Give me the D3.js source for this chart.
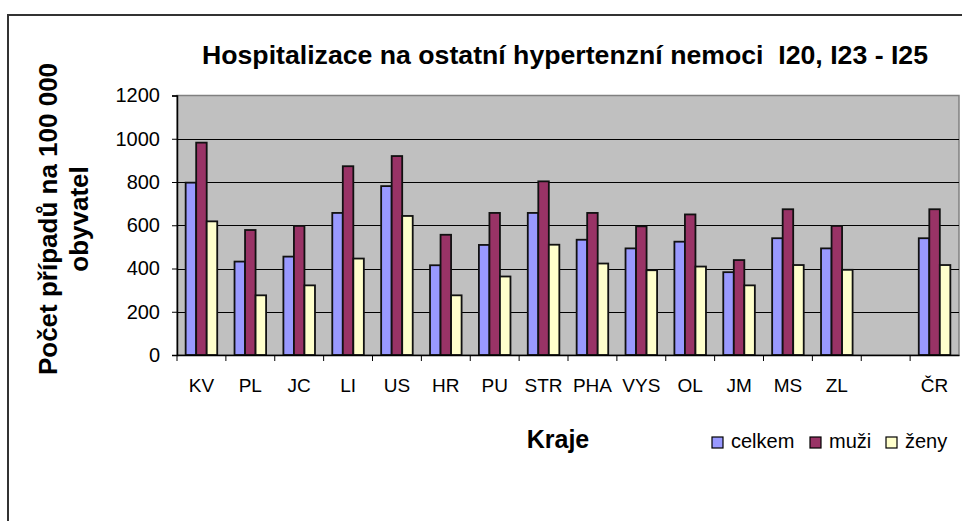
<!DOCTYPE html>
<html>
<head>
<meta charset="utf-8">
<script src="https://cdn.jsdelivr.net/npm/d3@7"></script>
<style>
  body { margin: 0; background: #fff; }
  svg { display: block; font-family: "Liberation Sans", Arial, sans-serif; }
</style>
</head>
<body>
<div id="chart"></div>
<script>
// Data
const kraje = ["KV", "PL", "JC", "LI", "US", "HR", "PU", "STR", "PHA", "VYS", "OL", "JM", "MS", "ZL", "", "ČR"];
const celkem = [797, 432, 455, 657, 781, 415, 509, 657, 533, 493, 524, 383, 540, 493, null, 540];
const muzi   = [982, 578, 597, 873, 920, 556, 657, 803, 657, 595, 650, 439, 674, 597, null, 674];
const zeny   = [618, 276, 322, 446, 643, 276, 363, 510, 423, 392, 409, 322, 416, 394, null, 416];
const serie = ["celkem", "muži", "ženy"];
const yTicks = [0, 200, 400, 600, 800, 1000, 1200];

const colors = { "celkem": "#9999ff", "muži": "#993366", "ženy": "#ffffcc" };

const W = 962, H = 521;
const plot = { left: 177, right: 959, top: 95.5, bottom: 355 };

const svg = d3.select("#chart").append("svg")
    .attr("width", W)
    .attr("height", H);

// outer chart frame
svg.append("rect")
    .attr("x", 8).attr("y", 15)
    .attr("width", W).attr("height", H)
    .attr("fill", "#fff")
    .attr("stroke", "#333").attr("stroke-width", 2);

// Scales
const x0 = d3.scaleBand().domain(kraje).range([plot.left, plot.right]).padding(0);
const groupW = x0.bandwidth() * 0.646;
const x1 = d3.scaleBand().domain(serie).range([0, groupW]).padding(0);
const y = d3.scaleLinear().domain([0, 1200]).range([plot.bottom, plot.top]);

// plot area
svg.append("rect")
    .attr("x", plot.left).attr("y", plot.top)
    .attr("width", plot.right - plot.left).attr("height", plot.bottom - plot.top)
    .attr("fill", "#c0c0c0")
    .attr("stroke", "#808080").attr("stroke-width", 1.5);

// gridlines
svg.append("g")
    .selectAll("line")
    .data(yTicks.filter(d => d > 0 && d < 1200))
    .join("line")
    .attr("x1", plot.left).attr("x2", plot.right)
    .attr("y1", d => Math.round(y(d)) + 0.5).attr("y2", d => Math.round(y(d)) + 0.5)
    .attr("stroke", "#000").attr("stroke-width", 1);

// bars
const rows = kraje.map((k, i) => ({ k, vals: [celkem[i], muzi[i], zeny[i]] }));
const groups = svg.append("g")
    .selectAll("g")
    .data(rows)
    .join("g")
    .attr("transform", d => `translate(${x0(d.k) + (x0.bandwidth() - groupW) / 2},0)`);

groups.selectAll("rect")
    .data(d => d.vals.map((v, j) => ({ s: serie[j], v })).filter(e => e.v != null))
    .join("rect")
    .attr("x", d => x1(d.s))
    .attr("y", d => y(d.v))
    .attr("width", x1.bandwidth())
    .attr("height", d => y(0) - y(d.v))
    .attr("fill", d => colors[d.s])
    .attr("stroke", "#111")
    .attr("stroke-width", 1.8);

// Y axis
const yAxis = svg.append("g")
    .attr("transform", `translate(${plot.left},0)`)
    .call(d3.axisLeft(y).tickValues(yTicks).tickSize(5).tickPadding(12).tickFormat(d3.format("d")));
yAxis.select(".domain").attr("stroke", "#000").attr("stroke-width", 1.5);
yAxis.selectAll(".tick line").attr("stroke", "#000");
yAxis.selectAll(".tick text")
    .attr("font-size", 20).attr("fill", "#000")
    .attr("font-family", "Liberation Sans, Arial, sans-serif");

// X axis
const xAxis = svg.append("g")
    .attr("transform", `translate(0,${plot.bottom})`)
    .call(d3.axisBottom(x0).tickSize(0).tickPadding(24));
xAxis.select(".domain").attr("stroke", "#000").attr("stroke-width", 1.5);
xAxis.selectAll(".tick text")
    .attr("font-size", 19).attr("fill", "#000")
    .attr("font-family", "Liberation Sans, Arial, sans-serif");
// tick marks at category boundaries
svg.append("g")
    .selectAll("line")
    .data(kraje)
    .join("line")
    .attr("x1", d => x0(d)).attr("x2", d => x0(d))
    .attr("y1", plot.bottom).attr("y2", plot.bottom + 6)
    .attr("stroke", "#000");

// Title (keeps the double space)
svg.append("text")
    .attr("x", 565).attr("y", 64)
    .attr("text-anchor", "middle")
    .attr("font-size", 25).attr("font-weight", "bold")
    .attr("textLength", 726).attr("lengthAdjust", "spacingAndGlyphs")
    .style("white-space", "pre")
    .text("Hospitalizace na ostatní hypertenzní nemoci  I20, I23 - I25");

// Y title
const yt = svg.append("text")
    .attr("transform", "translate(57,219) rotate(-90)")
    .attr("text-anchor", "middle")
    .attr("font-size", 26).attr("font-weight", "bold");
yt.append("tspan").attr("x", 0).attr("dy", 0).text("Počet případů na 100 000");
yt.append("tspan").attr("x", 0).attr("dy", 31).text("obyvatel");

// X title
svg.append("text")
    .attr("x", 558).attr("y", 448)
    .attr("text-anchor", "middle")
    .attr("font-size", 25).attr("font-weight", "bold")
    .text("Kraje");

// Legend
const legendX = [712, 810, 886];
const leg = svg.append("g")
    .selectAll("g")
    .data(serie)
    .join("g")
    .attr("transform", (d, i) => `translate(${legendX[i]},437)`);
leg.append("rect")
    .attr("width", 11).attr("height", 11)
    .attr("fill", d => colors[d])
    .attr("stroke", "#000").attr("stroke-width", 1.2);
leg.append("text")
    .attr("x", 19).attr("y", 10.5)
    .attr("font-size", 20)
    .text(d => d);
</script>
</body>
</html>
